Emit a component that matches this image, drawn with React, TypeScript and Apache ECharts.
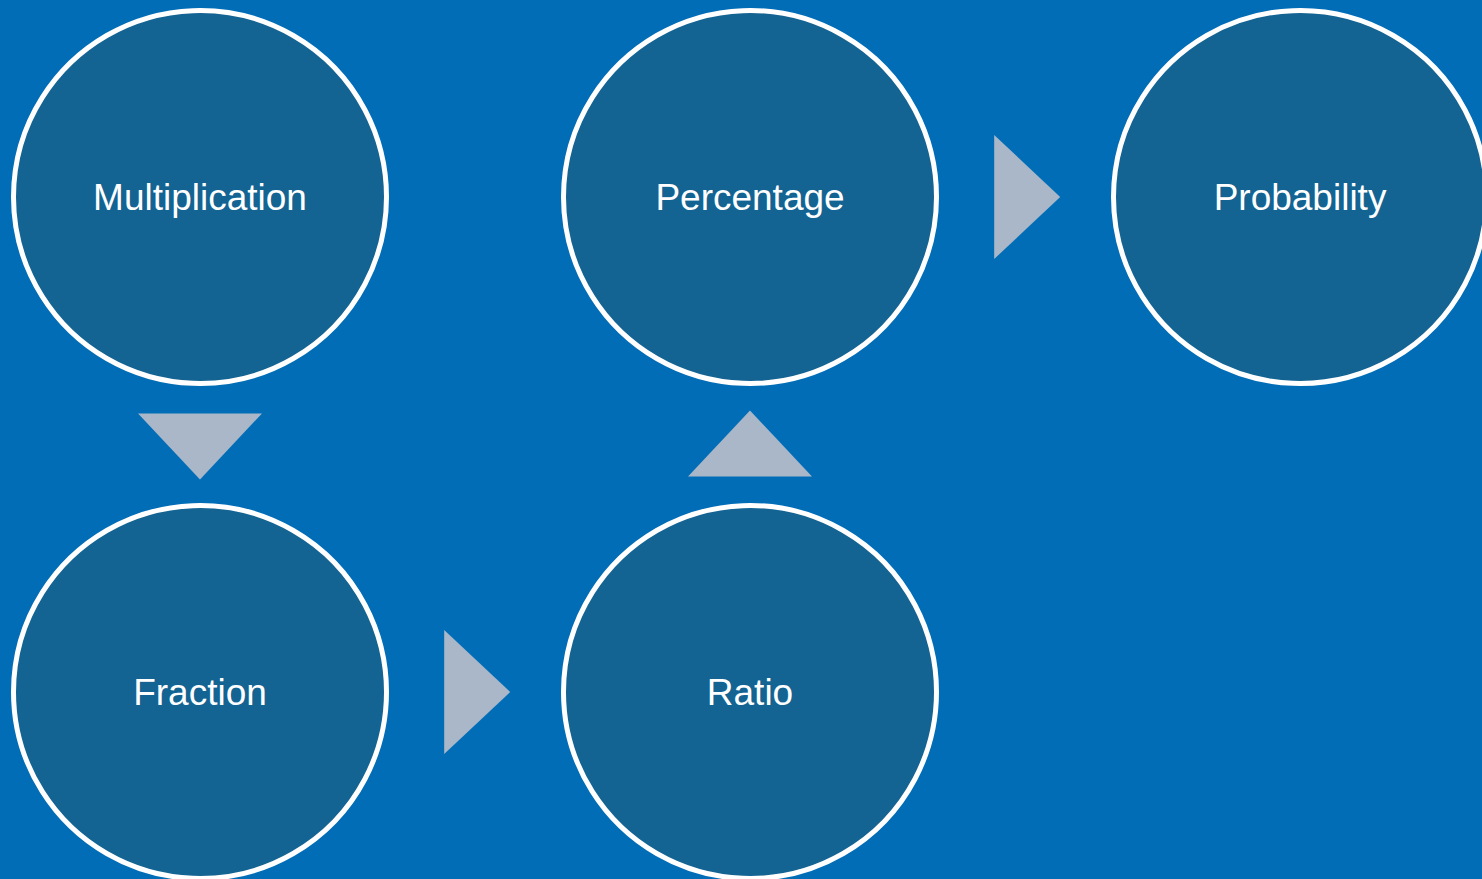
import React, { useEffect, useRef } from "react";
import * as echarts from "echarts";

// Concept nodes laid out on a grid (column, row)
const nodeNames = ["Multiplication", "Fraction", "Ratio", "Percentage", "Probability"];
const nodeCols = [0, 0, 1, 1, 2];
const nodeRows = [0, 1, 1, 0, 0];

// Arrow markers between nodes (column, row, direction)
const arrowCols = [0, 0.504, 1, 1.504];
const arrowRows = [0.504, 1, 0.498, 0];
const arrowDirs = ["down", "right", "up", "right"];

const BG = "#016DB7";
const NODE_FILL = "#136393";
const ARROW_FILL = "#A9B7C8";

export default function App() {
  const ref = useRef<HTMLDivElement>(null);
  useEffect(() => {
    document.body.style.margin = "0";
    const chart = echarts.init(ref.current!, undefined, { renderer: "svg" });
    const rot: Record<string, number> = { up: 0, down: 180, right: -90, left: 90 };
    chart.setOption({
      animation: false,
      backgroundColor: BG,
      grid: { left: 0, right: 0, top: 0, bottom: 0 },
      xAxis: { type: "value", min: -200 / 550, max: 1282 / 550, show: false },
      yAxis: { type: "value", min: -197 / 495, max: 682 / 495, inverse: true, show: false },
      series: [
        {
          type: "scatter",
          symbol: "circle",
          symbolSize: 373,
          itemStyle: { color: NODE_FILL, borderColor: "#ffffff", borderWidth: 5, opacity: 1 },
          label: {
            show: true,
            position: "inside",
            formatter: (p: any) => p.name,
            color: "#ffffff",
            fontSize: 37,
            fontFamily: "Liberation Sans, Arial, sans-serif",
          },
          emphasis: { disabled: true },
          data: nodeNames.map((n, i) => ({ name: n, value: [nodeCols[i], nodeRows[i]] })),
        },
        {
          type: "scatter",
          symbol: "triangle",
          itemStyle: { color: ARROW_FILL, opacity: 1 },
          emphasis: { disabled: true },
          data: arrowCols.map((c, i) => ({
            value: [c, arrowRows[i]],
            symbolRotate: rot[arrowDirs[i]],
            symbolSize: [124, 66],
          })),
        },
      ],
    });
    return () => chart.dispose();
  }, []);
  return <div ref={ref} style={{ position: "absolute", left: 0, top: 0, width: 1482, height: 879 }} />;
}
